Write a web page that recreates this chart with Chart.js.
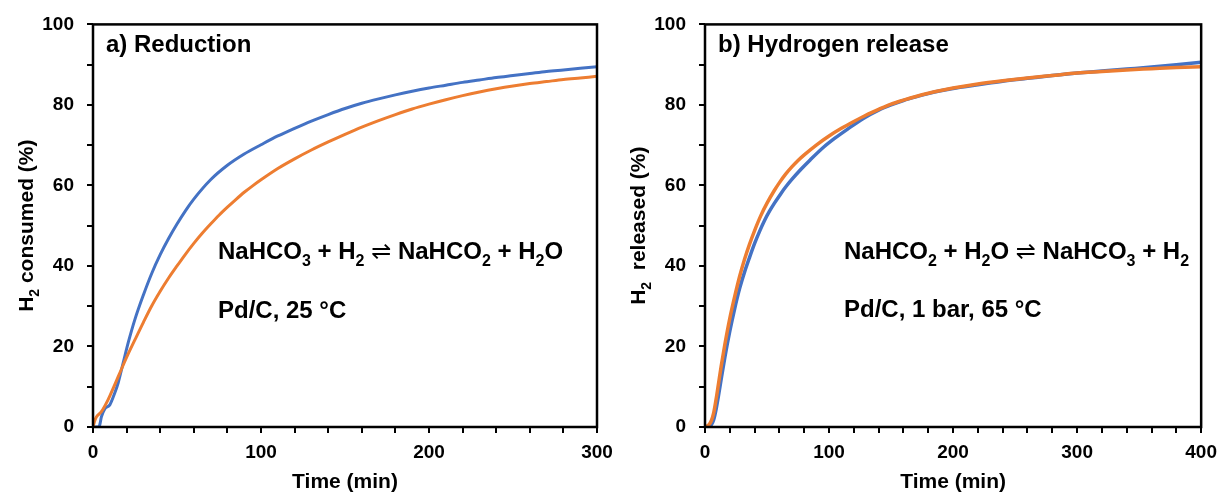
<!DOCTYPE html>
<html>
<head>
<meta charset="utf-8">
<script src="https://cdn.jsdelivr.net/npm/chart.js@4.4.1/dist/chart.umd.min.js"></script>
<style>
  html, body { margin: 0; padding: 0; background: #fff; }
  #wrap { position: relative; width: 1225px; height: 494px; overflow: hidden; }
  .panel { position: absolute; top: 0; height: 494px; }
  #panelA { left: 0; width: 625px; }
  #panelB { left: 612px; width: 613px; }
</style>
</head>
<body>
<div id="wrap">
  <div class="panel" id="panelA"><canvas id="chartA"></canvas></div>
  <div class="panel" id="panelB"><canvas id="chartB"></canvas></div>
</div>
<script>
// ----- data -----
// a) Reduction, time (min) / H2 consumed (%)
var reductionBlueTime = [0, 3, 4, 5, 7, 10, 13, 15, 18, 21, 25, 30, 35, 40, 45, 50, 55, 60, 70, 80, 90, 100,
  110, 120, 130, 140, 150, 160, 170, 180, 190, 200, 210, 220, 230, 240, 250, 260, 270, 280, 290, 300];
var reductionBlueH2 = [0, 0, 0.5, 2.5, 4.5, 5.5, 8.5, 11, 16, 21, 26.8, 32.8, 38.2, 42.8, 46.8, 50.4, 53.7, 56.6, 61.4, 65.0, 67.8, 70.1,
  72.3, 74.2, 76.0, 77.6, 79.1, 80.4, 81.5, 82.5, 83.4, 84.2, 84.9, 85.6, 86.2, 86.8, 87.3, 87.8, 88.3, 88.7, 89.1, 89.5];
var reductionOrangeTime = [0, 1, 2, 5, 9, 12, 15, 18, 21, 25, 30, 35, 40, 45, 50, 55, 60, 65, 70, 75, 80, 85, 90, 95, 100,
  110, 120, 130, 140, 150, 160, 170, 180, 190, 200, 210, 220, 230, 240, 250, 260, 270, 280, 290, 300];
var reductionOrangeH2 = [0, 1.5, 2.5, 3.8, 6.8, 9.6, 12.5, 15.4, 18.2, 21.7, 26.0, 30.1, 33.7, 37.0, 40.0, 42.9, 45.6, 48.1, 50.4, 52.6, 54.6, 56.5, 58.3, 59.9, 61.4,
  64.2, 66.6, 68.8, 70.8, 72.7, 74.5, 76.1, 77.6, 79.0, 80.2, 81.3, 82.3, 83.2, 84.0, 84.7, 85.3, 85.8, 86.3, 86.7, 87.1];

// b) Hydrogen release, time (min) / H2 released (%)
var releaseBlueTime = [0, 3, 5, 7, 9, 11, 13, 16, 20, 24, 28, 32, 36, 40, 44, 48, 52, 56, 61, 65, 70, 77, 85, 96, 105,
  115, 128, 140, 150, 160, 170, 180, 190, 200, 220, 240, 260, 280, 300, 320, 340, 360, 380, 400];
var releaseBlueH2 = [0, 0, 0.5, 1.8, 4.5, 8, 11.8, 17.3, 23.8, 29.5, 34.5, 38.6, 42.2, 45.6, 48.6, 51.3, 53.6, 55.6, 57.9, 59.6, 61.5, 63.9, 66.4, 69.6, 71.8,
  74.0, 76.7, 78.7, 80.0, 81.1, 82.0, 82.8, 83.5, 84.1, 85.0, 85.9, 86.6, 87.3, 87.9, 88.4, 88.9, 89.4, 90.0, 90.6];
var releaseOrangeTime = [0, 3, 5, 7, 9, 11, 13, 16, 20, 24, 28, 32, 36, 40, 45, 50, 56, 60, 65, 70, 75, 80, 90, 100,
  110, 120, 130, 140, 150, 160, 170, 180, 190, 200, 220, 240, 260, 280, 300, 320, 340, 360, 380, 400];
var releaseOrangeH2 = [0, 0.5, 1.5, 3.5, 7, 11, 15, 20.5, 27, 32.5, 37.5, 41.8, 45.5, 48.8, 52.5, 55.6, 58.8, 60.7, 62.8, 64.6, 66.2, 67.6, 70.1, 72.3,
  74.2, 75.9, 77.5, 78.9, 80.2, 81.2, 82.1, 82.9, 83.6, 84.2, 85.2, 86.0, 86.7, 87.3, 87.9, 88.3, 88.7, 89.0, 89.3, 89.5];

// tick labels
var yTickLabels = [0, 20, 40, 60, 80, 100];
var reductionTimeLabels = [0, 100, 200, 300];
var releaseTimeLabels = [0, 100, 200, 300, 400];

var BLUE = '#4472C4';
var ORANGE = '#ED7D31';
var FONT = '"Liberation Sans", Arial, "DejaVu Sans", sans-serif';

function toPoints(xs, ys) {
  return xs.map(function (x, i) { return { x: x, y: ys[i] }; });
}

function inList(list, v) {
  return list.some(function (l) { return Math.abs(l - v) < 1e-6; });
}

// "_x" = subscript, "~x" = normal weight (for the arrow)
function partFont(p, size) {
  var k = p.charAt(0);
  if (k === '_') return 'bold ' + Math.round(size * 0.68) + 'px ' + FONT;
  if (k === '~') return 'normal ' + size + 'px "DejaVu Sans", ' + FONT;
  return 'bold ' + size + 'px ' + FONT;
}
function partText(p) {
  var k = p.charAt(0);
  return (k === '_' || k === '~') ? p.slice(1) : p;
}

function richWidth(ctx, parts, size) {
  var w = 0;
  parts.forEach(function (p) {
    ctx.font = partFont(p, size);
    w += ctx.measureText(partText(p)).width;
  });
  return w;
}

function drawRich(ctx, x, y, parts, size) {
  parts.forEach(function (p) {
    var txt = partText(p);
    ctx.font = partFont(p, size);
    ctx.fillText(txt, x, p.charAt(0) === '_' ? y + size * 0.3 : y);
    x += ctx.measureText(txt).width;
  });
}

var panelText = {
  id: 'panelText',
  afterDatasetsDraw: function (chart, args, opts) {
    var ctx = chart.ctx;
    var a = chart.chartArea;
    ctx.save();
    // frame
    ctx.strokeStyle = '#000';
    ctx.lineWidth = 2.5;
    ctx.strokeRect(a.left, a.top, a.right - a.left, a.bottom - a.top);

    ctx.fillStyle = '#000';
    ctx.textBaseline = 'alphabetic';
    ctx.textAlign = 'left';
    drawRich(ctx, a.left + 13, 52, [opts.title], 24);
    drawRich(ctx, a.left + opts.eqX, 259, opts.equation, 24);
    drawRich(ctx, a.left + opts.eqX, opts.condY, [opts.conditions], 24);

    // x title
    var xw = richWidth(ctx, [opts.xTitle], 21);
    drawRich(ctx, (a.left + a.right) / 2 - xw / 2, 488, [opts.xTitle], 21);

    // y title (rotated)
    var yw = richWidth(ctx, opts.yTitle, 21);
    ctx.translate(33, (a.top + a.bottom) / 2);
    ctx.rotate(-Math.PI / 2);
    drawRich(ctx, -yw / 2, 0, opts.yTitle, 21);
    ctx.restore();
  }
};

function buildChart(canvasId, spec) {
  var tickFont = { family: FONT, size: 19, weight: 'bold' };
  return new Chart(document.getElementById(canvasId).getContext('2d'), {
    type: 'line',
    data: {
      datasets: [
        { data: toPoints(spec.orangeT, spec.orangeY), borderColor: ORANGE, backgroundColor: ORANGE },
        { data: toPoints(spec.blueT, spec.blueY), borderColor: BLUE, backgroundColor: BLUE }
      ]
    },
    options: {
      responsive: true,
      maintainAspectRatio: false,
      animation: false,
      layout: { padding: { left: 0, right: spec.padRight, top: 21, bottom: 0 } },
      elements: {
        point: { radius: 0 },
        line: { borderWidth: spec.lineWidth, cubicInterpolationMode: 'monotone', fill: false }
      },
      plugins: {
        legend: { display: false },
        tooltip: { enabled: false },
        panelText: spec.text
      },
      scales: {
        x: {
          type: 'linear', min: 0, max: spec.xMax,
          afterFit: function (s) { s.height = 67; },
          border: { display: false },
          grid: { drawOnChartArea: false, color: '#000', lineWidth: 2, tickLength: 6 },
          ticks: {
            stepSize: 20, autoSkip: false, maxRotation: 0, padding: 8, color: '#000', font: tickFont,
            callback: function (v) { return inList(spec.xLabels, v) ? String(Math.round(v)) : ''; }
          }
        },
        y: {
          min: 0, max: 100,
          afterFit: function (s) { s.width = 93; },
          border: { display: false },
          grid: { drawOnChartArea: false, color: '#000', lineWidth: 2, tickLength: 6 },
          ticks: {
            stepSize: 10, autoSkip: false, padding: 13, color: '#000', font: tickFont,
            callback: function (v) { return inList(yTickLabels, v) ? String(Math.round(v)) : ''; }
          }
        }
      }
    },
    plugins: [panelText]
  });
}

buildChart('chartA', {
  blueT: reductionBlueTime, blueY: reductionBlueH2,
  orangeT: reductionOrangeTime, orangeY: reductionOrangeH2,
  xMax: 300, xLabels: reductionTimeLabels, padRight: 28, lineWidth: 3,
  text: {
    title: 'a) Reduction',
    equation: ['NaHCO', '_3', ' + H', '_2', ' ', '~\u21CC', ' NaHCO', '_2', ' + H', '_2', 'O'],
    conditions: 'Pd/C, 25 \u00B0C',
    eqX: 125, condY: 318,
    xTitle: 'Time (min)',
    yTitle: ['H', '_2', ' consumed (%)']
  }
});

buildChart('chartB', {
  blueT: releaseBlueTime, blueY: releaseBlueH2,
  orangeT: releaseOrangeTime, orangeY: releaseOrangeH2,
  xMax: 400, xLabels: releaseTimeLabels, padRight: 18, lineWidth: 3.5,
  text: {
    title: 'b) Hydrogen release',
    equation: ['NaHCO', '_2', ' + H', '_2', 'O ', '~\u21CC', ' NaHCO', '_3', ' + H', '_2'],
    conditions: 'Pd/C, 1 bar, 65 \u00B0C',
    eqX: 139, condY: 317,
    xTitle: 'Time (min)',
    yTitle: ['H', '_2', '  released (%)']
  }
});
</script>
</body>
</html>
